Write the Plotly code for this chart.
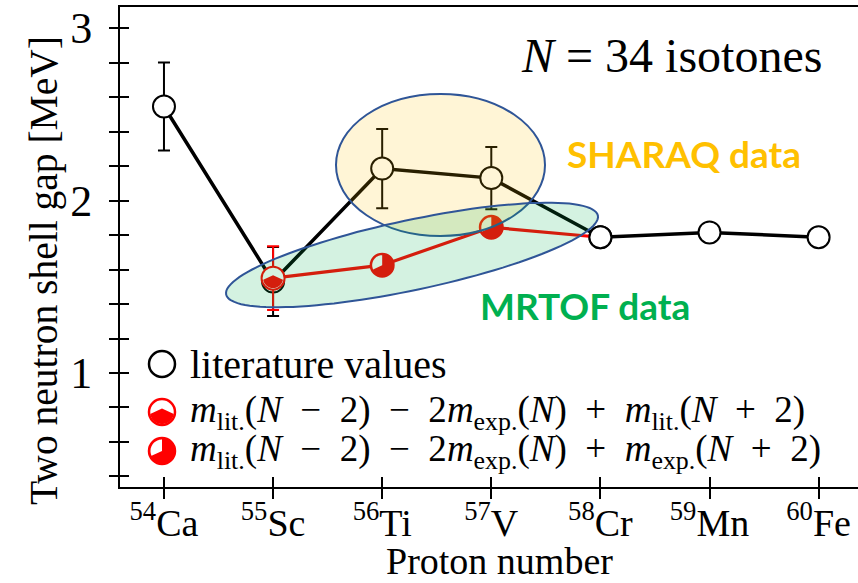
import math
import plotly.graph_objects as go

# ---------------- data ----------------
proton_number = [20, 21, 22, 23, 24, 25, 26]
isotone_labels = ["<sup>54</sup>Ca", "<sup>55</sup>Sc", "<sup>56</sup>Ti", "<sup>57</sup>V",
                  "<sup>58</sup>Cr", "<sup>59</sup>Mn", "<sup>60</sup>Fe"]
lit_gap = [2.545, 1.53, 2.185, 2.13, 1.787, 1.815, 1.787]
lit_err = [0.255, 0.20, 0.23, 0.18, 0.0, 0.0, 0.0]

mrtof_z = [21, 22, 23, 24]
mrtof_gap = [1.55, 1.625, 1.845, 1.787]
mrtof_err = [0.185, 0.0, 0.0, 0.0]
mrtof_kind = ["lit", "exp", "exp", "none"]   # marker style per point

# ---------------- layout constants ----------------
W, H = 858, 583
L, T, PW, PH = 120, 7, 738, 480
XR = [19.597, 26.361]
YR = [0.339, 3.122]
SERIF = "Liberation Serif, Times New Roman, serif"
SANS = "Lato, Open Sans, sans-serif"
RED = "#FF0000"
BLUE_EDGE = "#2F5597"


def px2x(px):
    return XR[0] + (px - L) / PW * (XR[1] - XR[0])


def py2y(py):
    return YR[1] - (py - T) / PH * (YR[1] - YR[0])


def fx(px):
    return (px - L) / PW


def fy(py):
    return (T + PH - py) / PH


def poly_path(pts):
    return "M " + " L ".join(f"{x:.3f},{y:.3f}" for x, y in pts) + " Z"


def wedge(r, a0, a1, n=24):
    pts = [(0, 0)]
    for i in range(n + 1):
        a = math.radians(a0 + (a1 - a0) * i / n)
        pts.append((r * math.cos(a), r * math.sin(a)))
    return pts


def chevron_fill(r, n=30):
    # bottom part of circle below a "^" shaped boundary
    pts = []
    for i in range(n + 1):
        a = math.radians(190 + (350 - 190) * i / n)
        pts.append((r * math.cos(a), r * math.sin(a)))
    pts.append((0, 0.3 * r))
    return pts


fig = go.Figure()

# literature values (black)
fig.add_trace(go.Scatter(
    x=proton_number, y=lit_gap, mode="lines+markers",
    line=dict(color="black", width=3.5),
    marker=dict(symbol="circle", size=22, color="white", opacity=1,
                line=dict(color="black", width=2)),
    error_y=dict(type="data", array=lit_err, visible=True, color="black", thickness=2, width=6),
    showlegend=False, hoverinfo="skip"))

# MRTOF values (red)
red_fill = ["white" if k == "lit" else RED for k in mrtof_kind]
red_size = [0 if k == "none" else 23 for k in mrtof_kind]
fig.add_trace(go.Scatter(
    x=mrtof_z, y=mrtof_gap, mode="lines+markers",
    line=dict(color=RED, width=3.2),
    marker=dict(symbol="circle", size=red_size, color=red_fill, opacity=1,
                line=dict(color=RED, width=2)),
    error_y=dict(type="data", array=mrtof_err, visible=True, color=RED, thickness=2, width=6),
    showlegend=False, hoverinfo="skip"))

# black open circle on top where the red line ends (58Cr)
top_idx = [i for i, z in enumerate(proton_number) if z == mrtof_z[-1]]
fig.add_trace(go.Scatter(
    x=[proton_number[i] for i in top_idx], y=[lit_gap[i] for i in top_idx], mode="markers",
    marker=dict(symbol="circle", size=22, color="white", opacity=1,
                line=dict(color="black", width=2)),
    showlegend=False, hoverinfo="skip"))

# empty traces so the overlay tick axes get drawn
fig.add_trace(go.Scatter(x=[], y=[], xaxis="x2", yaxis="y2", showlegend=False))

shapes = []
# partial fills of red markers
for z, g, k in zip(mrtof_z, mrtof_gap, mrtof_kind):
    if k == "lit":
        shapes.append(dict(type="path", xref="x", yref="y", xsizemode="pixel", ysizemode="pixel",
                           xanchor=z, yanchor=g, path=poly_path(chevron_fill(10)),
                           fillcolor=RED, line=dict(width=0), layer="above"))
    elif k == "exp":
        shapes.append(dict(type="path", xref="x", yref="y", xsizemode="pixel", ysizemode="pixel",
                           xanchor=z, yanchor=g, path=poly_path(wedge(10, 90, 205)),
                           fillcolor="white", line=dict(width=0), layer="above"))

# SHARAQ ellipse (axis aligned)
shapes.append(dict(type="circle", xref="x", yref="y",
                   x0=px2x(336), x1=px2x(545), y0=py2y(236), y1=py2y(94),
                   fillcolor="rgba(255,192,0,0.16)", line=dict(color=BLUE_EDGE, width=2), layer="above"))

# MRTOF ellipse (tilted)
cx, cy, ea, eb, th = 412, 255, 190, 35, math.radians(-12)
ell = []
for i in range(121):
    t = 2 * math.pi * i / 120
    px = cx + ea * math.cos(t) * math.cos(th) - eb * math.sin(t) * math.sin(th)
    py = cy + ea * math.cos(t) * math.sin(th) + eb * math.sin(t) * math.cos(th)
    ell.append((px2x(px), py2y(py)))
shapes.append(dict(type="path", xref="x", yref="y", path=poly_path(ell),
                   fillcolor="rgba(0,176,80,0.17)", line=dict(color=BLUE_EDGE, width=2), layer="above"))

# legend glyphs
leg_x = 162
leg_rows = [364, 412, 451]
R = 13
for row, kind in zip(leg_rows, ["lit_values", "lit", "exp"]):
    base = dict(xref="paper", yref="paper", xsizemode="pixel", ysizemode="pixel",
                xanchor=fx(leg_x), yanchor=fy(row), layer="above")
    if kind == "lit_values":
        shapes.append(dict(type="circle", x0=-R, x1=R, y0=-R, y1=R, fillcolor="white",
                           line=dict(color="black", width=2.5), **base))
    elif kind == "lit":
        shapes.append(dict(type="circle", x0=-R, x1=R, y0=-R, y1=R, fillcolor="white",
                           line=dict(color=RED, width=2.5), **base))
        shapes.append(dict(type="path", path=poly_path(chevron_fill(R - 1)), fillcolor=RED,
                           line=dict(width=0), **base))
    else:
        shapes.append(dict(type="circle", x0=-R, x1=R, y0=-R, y1=R, fillcolor=RED,
                           line=dict(color=RED, width=2.5), **base))
        shapes.append(dict(type="path", path=poly_path(wedge(R - 1.5, 90, 205)), fillcolor="white",
                           line=dict(width=0), **base))

m_lit = "<i>m</i><sub>lit.</sub>"
m_exp = "<i>m</i><sub>exp.</sub>"
N = "<i>N</i>"
SP = "\u2002"
legend_texts = [
    "literature values",
    f"{m_lit}({N}{SP}−{SP}2){SP}−{SP}2{m_exp}({N}){SP}+{SP}{m_lit}({N}{SP}+{SP}2)",
    f"{m_lit}({N}{SP}−{SP}2){SP}−{SP}2{m_exp}({N}){SP}+{SP}{m_exp}({N}{SP}+{SP}2)",
]
legend_sizes = [40, 37, 37]

annotations = []
for row, txt, fs in zip(leg_rows, legend_texts, legend_sizes):
    annotations.append(dict(xref="paper", yref="paper", x=fx(188), y=fy(row), xanchor="left",
                            yanchor="middle", text=txt, showarrow=False,
                            font=dict(family=SERIF, size=fs, color="black")))

annotations += [
    dict(xref="paper", yref="paper", x=fx(671), y=fy(56), text="<i>N</i> = 34 isotones",
         showarrow=False, xanchor="center", yanchor="middle",
         font=dict(family=SERIF, size=48, color="black")),
    dict(xref="paper", yref="paper", x=fx(684), y=fy(153), text="<b>SHARAQ data</b>",
         showarrow=False, xanchor="center", yanchor="middle",
         font=dict(family=SANS, size=37, color="#FFC000")),
    dict(xref="paper", yref="paper", x=fx(585), y=fy(305), text="<b>MRTOF data</b>",
         showarrow=False, xanchor="center", yanchor="middle",
         font=dict(family=SANS, size=37, color="#00B050")),
    dict(xref="paper", yref="paper", x=fx(44), y=fy(271), text="Two neutron shell gap [MeV]",
         textangle=-90, showarrow=False, xanchor="center", yanchor="middle",
         font=dict(family=SERIF, size=39.5, color="black")),
    dict(xref="paper", yref="paper", x=fx(499), y=fy(583), text="Proton number",
         showarrow=False, xanchor="center", yanchor="bottom", borderpad=0,
         font=dict(family=SERIF, size=38, color="black")),
]

fig.update_layout(
    width=W, height=H,
    margin=dict(l=L, r=W - L - PW, t=T, b=H - T - PH, pad=0),
    paper_bgcolor="white", plot_bgcolor="white",
    showlegend=False,
    shapes=shapes, annotations=annotations,
    xaxis=dict(range=XR, tickmode="array", tickvals=proton_number, ticktext=isotone_labels,
               ticks="outside", ticklen=10, tickwidth=2, tickcolor="black", ticklabelstandoff=-9,
               showline=True, linewidth=2, linecolor="black", mirror=True,
               showgrid=False, zeroline=False,
               tickfont=dict(family=SERIF, size=38, color="black")),
    xaxis2=dict(range=XR, overlaying="x", anchor="y", side="bottom", tickmode="array",
                tickvals=proton_number, ticks="inside", ticklen=10, tickwidth=2, tickcolor="black",
                showticklabels=False, showline=False, showgrid=False, zeroline=False),
    yaxis=dict(range=YR, tickmode="linear", tick0=0, dtick=1,
               ticks="outside", ticklen=9, tickwidth=2, tickcolor="black", ticklabelstandoff=8,
               minor=dict(tickmode="linear", tick0=0, dtick=0.2, ticks="outside", ticklen=9,
                          tickwidth=2, tickcolor="black", showgrid=False),
               showline=True, linewidth=2, linecolor="black", mirror=False,
               showgrid=False, zeroline=False,
               tickfont=dict(family=SERIF, size=44, color="black")),
    yaxis2=dict(range=YR, overlaying="y", anchor="x", side="left", tickmode="linear", tick0=0,
                dtick=0.2, ticks="inside", ticklen=9, tickwidth=2, tickcolor="black",
                showticklabels=False, showline=False, showgrid=False, zeroline=False),
)

fig.write_html("out.html", config={"displayModeBar": False},
               post_script="document.body.style.margin='0px';")
